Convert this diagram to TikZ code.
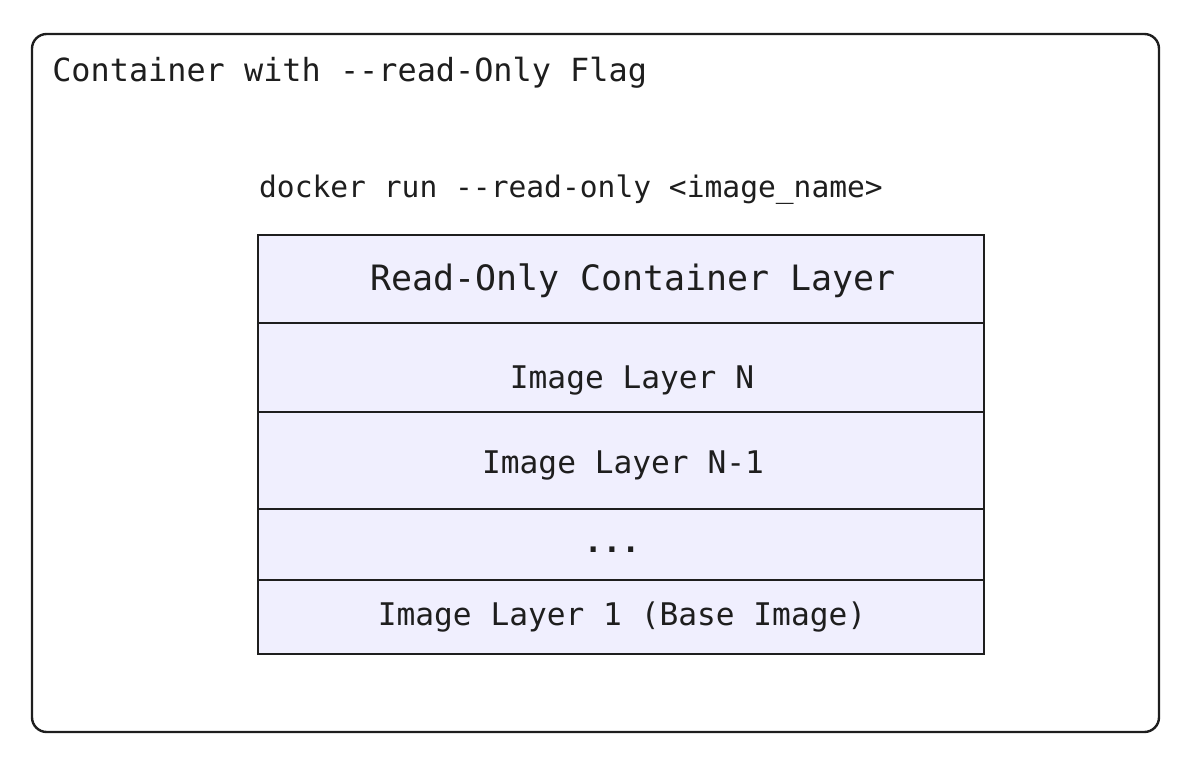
\documentclass[tikz,border=0pt]{standalone}
\usepackage{fontspec}
\setmonofont{DejaVu Sans Mono}
\definecolor{layerfill}{HTML}{F0EFFE}
\definecolor{ink}{HTML}{1E1E1E}
\begin{document}
\begin{tikzpicture}[x=0.75pt,y=-0.75pt,
  outerbox/.style={draw=ink,line width=1.8pt,rounded corners=11pt},
  layerbox/.style={draw=ink,fill=layerfill,line width=1.6pt},
  lbl/.style={text=ink,font=\ttfamily\fontsize{23.4}{28}\selectfont,anchor=base,inner sep=0pt}]
\useasboundingbox (0,0) rectangle (1197,762);
\draw[outerbox] (32,34) rectangle (1159,732);
\node[lbl,anchor=base west,font=\ttfamily\fontsize{23.9}{28}\selectfont] (title) at (52,82) {Container with --read-Only Flag};
\node[lbl,font=\ttfamily\fontsize{22.2}{27}\selectfont] (cmd) at (571,198) {docker run --read-only <image\_name>};
% layers
\draw[layerbox] (258,235) rectangle (984,323);
\draw[layerbox] (258,323) rectangle (984,412);
\draw[layerbox] (258,412) rectangle (984,509);
\draw[layerbox] (258,509) rectangle (984,580);
\draw[layerbox] (258,580) rectangle (984,654);
\node[lbl,font=\ttfamily\fontsize{26.2}{31}\selectfont] (rocl) at (633,291) {Read-Only Container Layer};
\node[lbl] (ln) at (632,389) {Image Layer N};
\node[lbl] (ln1) at (623,474) {Image Layer N-1};
\node[lbl,font=\ttfamily\bfseries\fontsize{23.4}{28}\selectfont] (dots) at (612,553) {...};
\node[lbl] (l1) at (622,626) {Image Layer 1 (Base Image)};
\end{tikzpicture}
\end{document}
